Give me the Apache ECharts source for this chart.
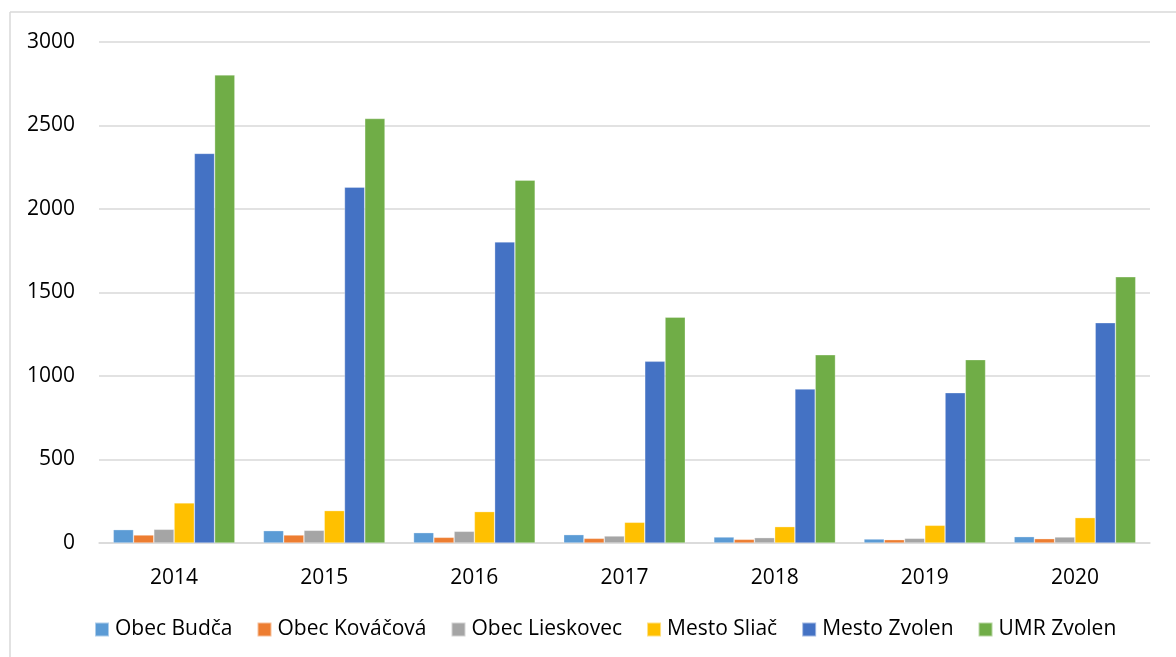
<!DOCTYPE html>
<html>
<head>
<meta charset="utf-8">
<script src="https://cdn.jsdelivr.net/npm/echarts@6/dist/echarts.min.js"></script>
<style>
html,body{margin:0;padding:0;background:#fff;}
#c{width:1176px;height:657px;}
</style>
</head>
<body>
<div id="c"></div>
<script>
const categories = ['2014','2015','2016','2017','2018','2019','2020'];
const budca     = [80, 74, 62, 50, 36, 24, 38];
const kovacova  = [48, 48, 34, 28, 22, 20, 26];
const lieskovec = [82, 76, 70, 42, 32, 28, 36];
const sliac     = [240, 194, 188, 124, 98, 106, 152];
const zvolen    = [2333, 2131, 1803, 1088, 922, 900, 1319];
const umr       = [2803, 2542, 2173, 1352, 1127, 1098, 1594];
const yTicks = [0, 500, 1000, 1500, 2000, 2500, 3000];

const seriesNames = ['Obec Budča','Obec Kováčová','Obec Lieskovec','Mesto Sliač','Mesto Zvolen','UMR Zvolen'];
const seriesData = [budca, kovacova, lieskovec, sliac, zvolen, umr];
const colors = ['#5B9BD5','#ED7D31','#A5A5A5','#FFC000','#4472C4','#70AD47'];

const FONT = 'Open Sans';
const chart = echarts.init(document.getElementById('c'), null, {renderer:'canvas'});
chart.setOption({
  animation: false,
  textStyle: {fontFamily: FONT},
  color: colors,
  grid: {left: 99, right: 26, top: 42, bottom: 114, containLabel: false},
  graphic: [
    {type:'line', shape:{x1:10, y1:12, x2:10, y2:657}, style:{stroke:'#d9d9d9', lineWidth:1.5}},
    {type:'line', shape:{x1:10, y1:12, x2:1176, y2:12}, style:{stroke:'#d9d9d9', lineWidth:1.5}}
  ],
  legend: {
    data: seriesNames,
    top: 619,
    left: 94,
    padding: 0,
    itemWidth: 14,
    itemHeight: 14,
    itemGap: 24,
    icon: 'rect',
    textStyle: {fontFamily: FONT, fontSize: 21, color: '#000', padding:[0,0,0,1]}
  },
  xAxis: {
    type: 'category',
    data: categories,
    axisLine: {show: true, lineStyle: {color: '#d9d9d9', width: 1.5}},
    axisTick: {show: false},
    axisLabel: {fontFamily: FONT, fontSize: 21, color: '#000', margin: 25}
  },
  yAxis: {
    type: 'value',
    min: yTicks[0],
    max: yTicks[yTicks.length-1],
    interval: 500,
    axisLine: {show: false},
    axisTick: {show: false},
    splitLine: {lineStyle: {color: '#d9d9d9', width: 1.5}},
    axisLabel: {fontFamily: FONT, fontSize: 21, color: '#000', margin: 24, formatter: v => String(v)}
  },
  series: seriesNames.map((n, i) => ({
    name: n,
    type: 'bar',
    data: seriesData[i],
    barGap: '0%',
    barCategoryGap: '19%',
    itemStyle: {color: colors[i], borderColor: 'rgba(255,255,255,0.5)', borderWidth: 0.6}
  }))
});
</script>
</body>
</html>
